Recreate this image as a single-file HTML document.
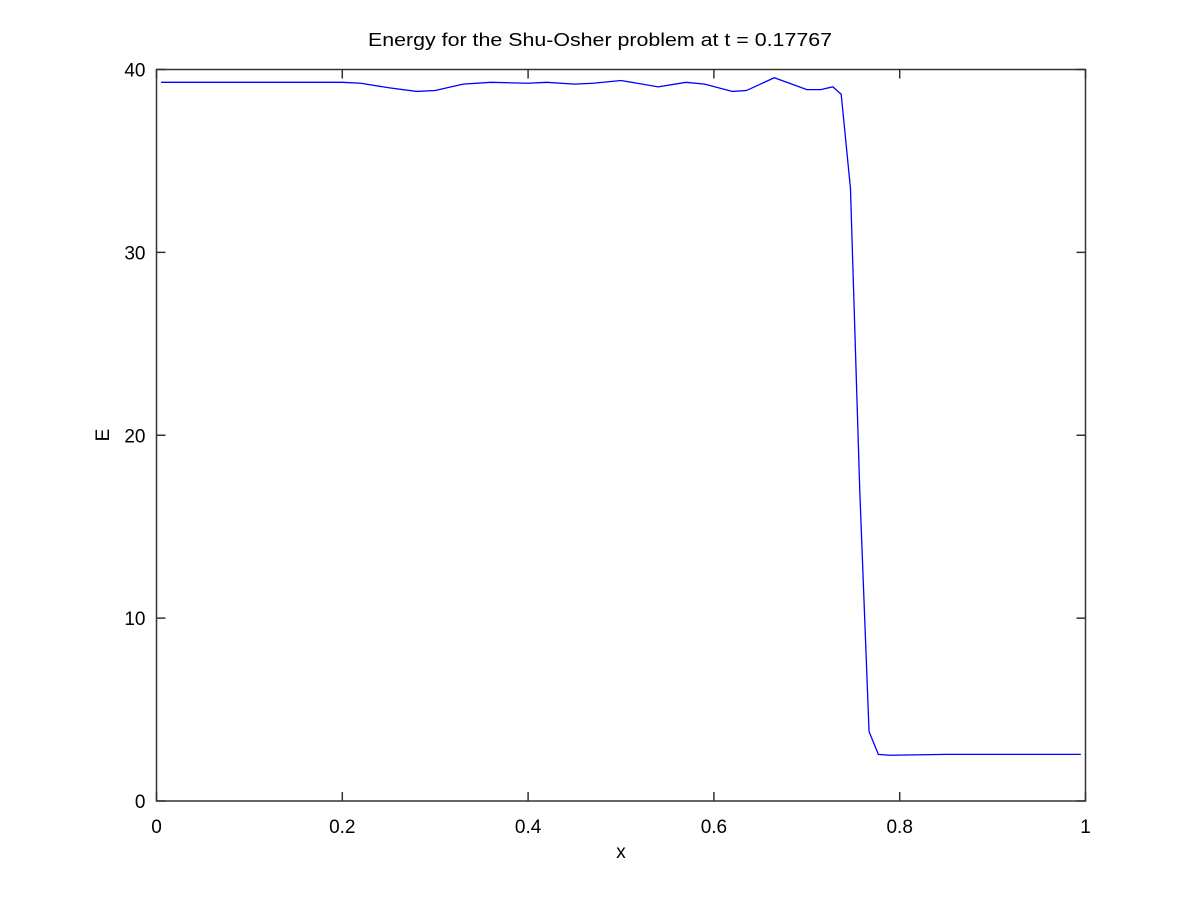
<!DOCTYPE html>
<html><head><meta charset="utf-8"><style>
body{margin:0;background:#fff}
svg{display:block;font-family:"Liberation Sans",sans-serif}
</style></head><body>
<svg id="chart" width="1200" height="900">
<rect width="1200" height="900" fill="#fff"/>
<text x="600" y="46" text-anchor="middle" font-size="18" textLength="464" lengthAdjust="spacingAndGlyphs">Energy for the Shu-Osher problem at t = 0.17767</text>
<text x="621" y="858" text-anchor="middle" font-size="19">x</text>
<text x="109" y="435" text-anchor="middle" font-size="19" transform="rotate(-90 109 435)">E</text>
<g id="axes"></g>
<polyline id="series" fill="none" stroke="#0000ff" stroke-width="1.3"/>
<rect x="156.5" y="69.5" width="929" height="731.5" fill="none" stroke="#333" stroke-width="1.5"/>
</svg>
<script>
const xTicks=[0,0.2,0.4,0.6,0.8,1];
const xTickLabels=["0","0.2","0.4","0.6","0.8","1"];
const yTicks=[0,10,20,30,40];
const yTickLabels=["0","10","20","30","40"];
const xs=[0.005,0.2,0.22,0.25,0.28,0.30,0.33,0.36,0.40,0.42,0.45,0.47,0.50,0.54,0.57,0.59,0.62,0.635,0.665,0.70,0.715,0.728,0.737,0.747,0.757,0.767,0.777,0.79,0.85,0.995];
const ys=[39.3,39.3,39.25,39.0,38.8,38.85,39.2,39.3,39.25,39.3,39.2,39.25,39.4,39.05,39.3,39.2,38.8,38.85,39.55,38.9,38.9,39.05,38.65,33.5,17,3.8,2.55,2.5,2.55,2.55];
const L=156.5,R=1085.5,T=69.5,B=801;
const sx=v=>L+(R-L)*v, sy=v=>B-(B-T)*v/40;
const NS="http://www.w3.org/2000/svg";
const g=document.getElementById('axes');
function el(t,a){const e=document.createElementNS(NS,t);for(const k in a)e.setAttribute(k,a[k]);g.appendChild(e);return e;}
xTicks.forEach((v,i)=>{const x=sx(v);
 let t=el('line',{x1:x,x2:x,y1:B,y2:B-9,stroke:'#333','stroke-width':1.5});
 
 
 t=el('line',{x1:x,x2:x,y1:T,y2:T+9,stroke:'#333','stroke-width':1.5});
 
 
 const lb=el('text',{x:x,y:B+32,'text-anchor':'middle','font-size':19});lb.textContent=xTickLabels[i];
 
 
});
yTicks.forEach((v,i)=>{const y=sy(v);
 let t=el('line',{x1:L,x2:L+9,y1:y,y2:y,stroke:'#333','stroke-width':1.5});
 
 
 t=el('line',{x1:R,x2:R-9,y1:y,y2:y,stroke:'#333','stroke-width':1.5});
 
 
 const lb=el('text',{x:L-11,y:y+7,'text-anchor':'end','font-size':19});lb.textContent=yTickLabels[i];
 
 
});
document.getElementById('series').setAttribute('points',xs.map((x,i)=>sx(x)+','+sy(ys[i])).join(' '));
</script>
</body></html>
